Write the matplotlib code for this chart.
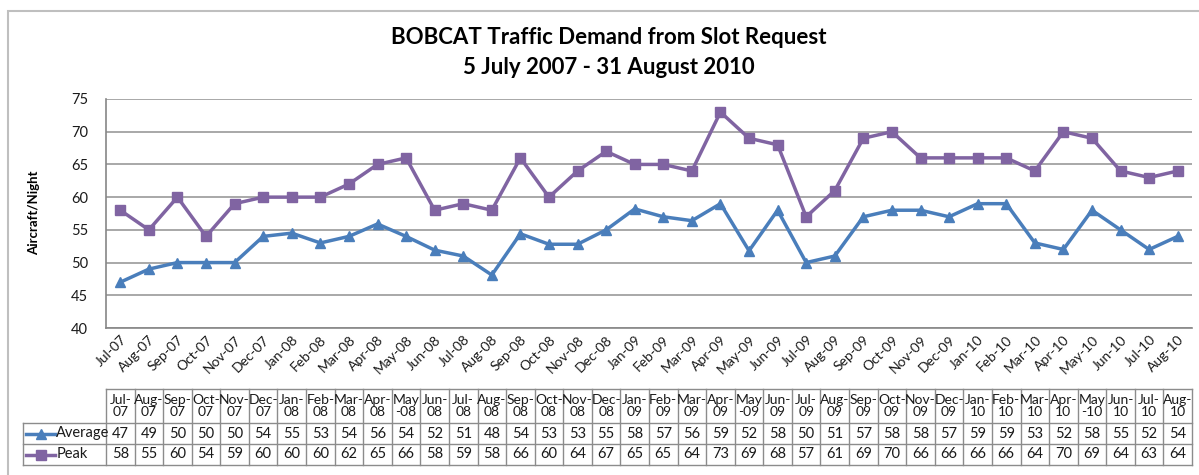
import numpy as np
import matplotlib
matplotlib.use("Agg")
import matplotlib.pyplot as plt
from matplotlib.lines import Line2D
from matplotlib.patches import Rectangle

plt.rcParams['font.family'] = ['Lato', 'DejaVu Sans']

# months on the category axis
months = ['Jul-07', 'Aug-07', 'Sep-07', 'Oct-07', 'Nov-07', 'Dec-07',
          'Jan-08', 'Feb-08', 'Mar-08', 'Apr-08', 'May-08', 'Jun-08',
          'Jul-08', 'Aug-08', 'Sep-08', 'Oct-08', 'Nov-08', 'Dec-08',
          'Jan-09', 'Feb-09', 'Mar-09', 'Apr-09', 'May-09', 'Jun-09',
          'Jul-09', 'Aug-09', 'Sep-09', 'Oct-09', 'Nov-09', 'Dec-09',
          'Jan-10', 'Feb-10', 'Mar-10', 'Apr-10', 'May-10', 'Jun-10',
          'Jul-10', 'Aug-10']

# plotted values
average = [47, 49, 50, 50, 50, 54, 54.5, 53, 54, 55.9, 54, 51.9,
           51, 48.1, 54.4, 52.8, 52.8, 55, 58.2, 57, 56.4, 59, 51.8, 58,
           50, 51, 57, 58, 58, 57, 59, 59, 53, 52, 58, 55, 52, 54]
peak = [58, 55, 60, 54, 59, 60, 60, 60, 62, 65, 66, 58,
        59, 58, 66, 60, 64, 67, 65, 65, 64, 73, 69, 68,
        57, 61, 69, 70, 66, 66, 66, 66, 64, 70, 69, 64, 63, 64]

# values printed in the data table
average_table = [47, 49, 50, 50, 50, 54, 55, 53, 54, 56, 54, 52,
                 51, 48, 54, 53, 53, 55, 58, 57, 56, 59, 52, 58,
                 50, 51, 57, 58, 58, 57, 59, 59, 53, 52, 58, 55, 52, 54]
peak_table = peak

blue = '#4A7EBB'
purple = '#8064A2'
grid_c = '#9A9A9A'
txt_c = '#1A1A1A'

W, H = 1199, 475
fig = plt.figure(figsize=(W / 100, H / 100), dpi=100)

# chart area frame
fig.patches.append(Rectangle((8 / W, -0.1), 1.2, (H - 11) / H + 0.1,
                             transform=fig.transFigure, fill=False,
                             edgecolor='#BFBFBF', lw=1.5))

px_l, px_r, px_t, px_b = 106, 1192, 99, 328
ax = fig.add_axes([px_l / W, (H - px_b) / H, (px_r - px_l) / W, (px_b - px_t) / H])

x = np.arange(len(months))
ax.plot(x, average, color=blue, lw=2.5, marker='^', ms=7.5, zorder=3)
ax.plot(x, peak, color=purple, lw=2.5, marker='s', ms=7, zorder=3)

ax.set_xlim(-0.5, len(months) - 0.5)
ax.set_ylim(40, 75)
ax.set_yticks(range(40, 76, 5))
ax.yaxis.grid(True, color=grid_c, lw=1.2)
ax.set_axisbelow(True)
for s in ['top', 'right']:
    ax.spines[s].set_visible(False)
for s in ['left', 'bottom']:
    ax.spines[s].set_color('#868686')
    ax.spines[s].set_linewidth(1.2)
ax.tick_params(axis='y', length=0, labelsize=10.5, pad=13, colors=txt_c)
ax.tick_params(axis='x', length=0, labelsize=10, pad=4, colors=txt_c)
ax.set_xticks(x)
ax.set_xticklabels(months, rotation=45, ha='right', rotation_mode='anchor')

fig.text(34 / W, 1 - 213 / H, 'Aircraft/Night', rotation=90, fontsize=9.5,
         fontweight='bold', ha='center', va='center')

fig.text(609 / W, 1 - 38 / H, 'BOBCAT Traffic Demand from Slot Request',
         fontsize=16, fontweight='bold', ha='center', va='center')
fig.text(609 / W, 1 - 68 / H, '5 July 2007 - 31 August 2010',
         fontsize=16, fontweight='bold', ha='center', va='center')

# data table under the chart
t_top, t_bot = 389, 465
tax = fig.add_axes([px_l / W, (H - t_bot) / H, (px_r - px_l) / W, (t_bot - t_top) / H])
tax.set_xlim(-0.5, len(months) - 0.5)
tax.set_ylim(t_bot - t_top, 0)
tax.axis('off')

unit = (px_r - px_l) / len(months)
lab_x = (23 - px_l) / unit - 0.5
rows = [0, 34, 55, 76]
tc = '#8C8C8C'
for i in range(len(months) + 1):
    tax.plot([i - 0.5, i - 0.5], [0, 76], color=tc, lw=1, clip_on=False)
tax.plot([-0.5, len(months) - 0.5], [0, 0], color=tc, lw=1, clip_on=False)
for r in rows[1:]:
    tax.plot([lab_x, len(months) - 0.5], [r, r], color=tc, lw=1, clip_on=False)
tax.plot([lab_x, lab_x], [34, 76], color=tc, lw=1, clip_on=False)

for i, m in enumerate(months):
    mon, yr = m.split('-')
    head = mon + '\n-' + yr if mon == 'May' else mon + '-\n' + yr
    tax.text(i, 17, head, ha='center', va='center', fontsize=10,
             linespacing=1.1, color=txt_c)
    tax.text(i, 44.5, str(average_table[i]), ha='center', va='center',
             fontsize=10.5, color=txt_c)
    tax.text(i, 65.5, str(peak_table[i]), ha='center', va='center',
             fontsize=10.5, color=txt_c)

# legend keys in the label column
k0 = (26 - px_l) / unit - 0.5
k1 = (55 - px_l) / unit - 0.5
for yy, col, mk, name in [(44.5, blue, '^', 'Average'), (65.5, purple, 's', 'Peak')]:
    tax.add_line(Line2D([k0, k1], [yy, yy], color=col, lw=2.5, clip_on=False))
    tax.add_line(Line2D([(k0 + k1) / 2], [yy], color=col, marker=mk, ms=6.5,
                        clip_on=False))
    tax.text(k1 + 0.05, yy, name, ha='left', va='center', fontsize=10.5,
             color=txt_c)

fig.savefig('out.png', dpi=100)
